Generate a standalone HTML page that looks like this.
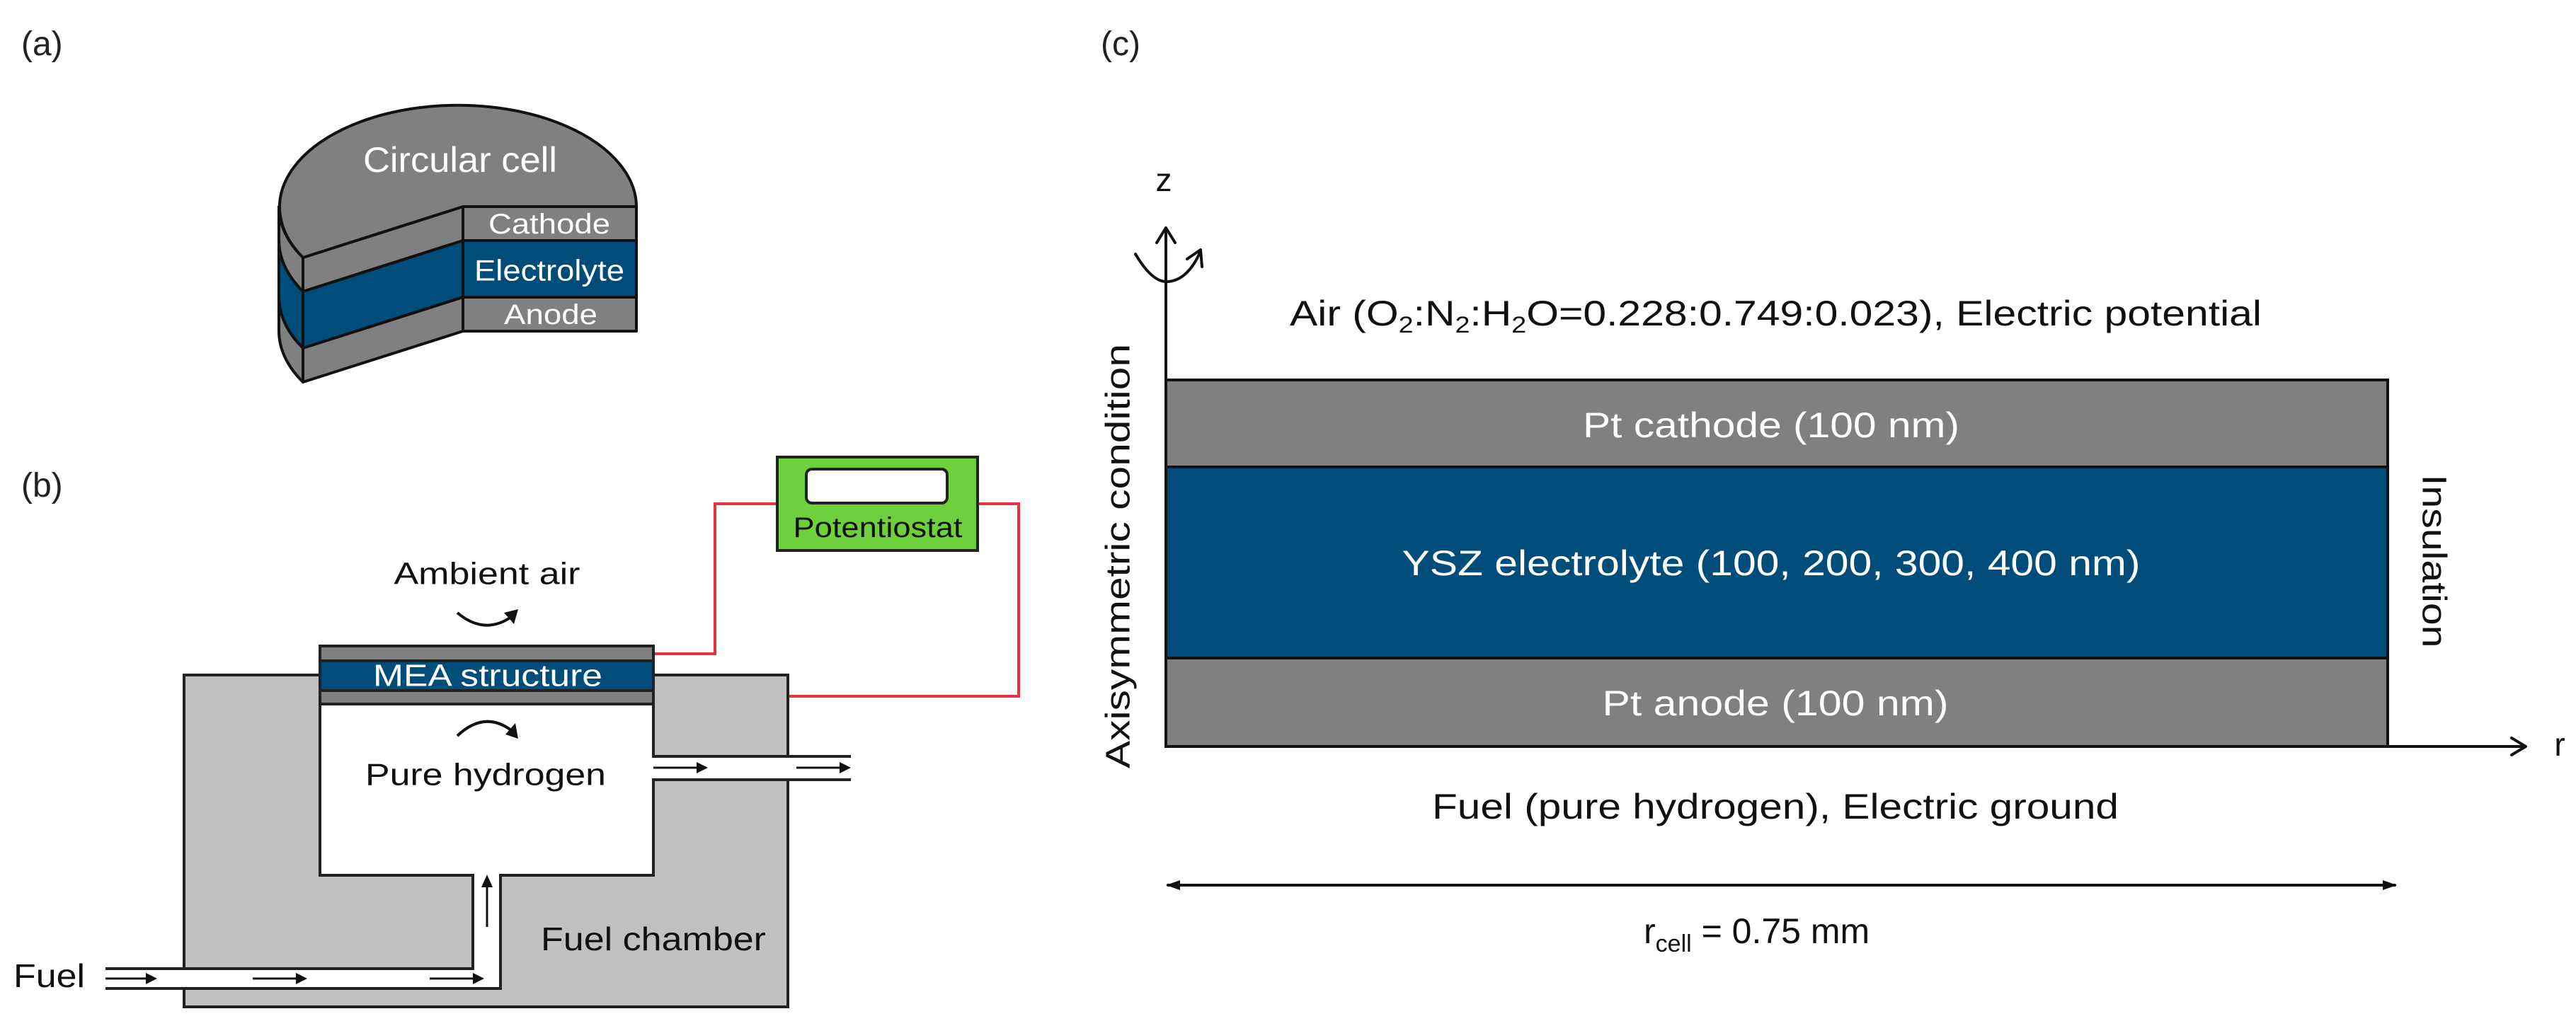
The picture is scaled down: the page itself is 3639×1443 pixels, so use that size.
<!DOCTYPE html>
<html><head><meta charset="utf-8"><style>
html,body{margin:0;padding:0;background:#fff;}
svg{display:block;}
text{font-family:"Liberation Sans",Arial,sans-serif;}
</style></head><body>
<svg width="3639" height="1443" viewBox="0 0 3639 1443" xmlns="http://www.w3.org/2000/svg">
<defs>
<marker id="ah" viewBox="0 0 10 10" refX="9" refY="5" markerWidth="7" markerHeight="7" orient="auto" markerUnits="userSpaceOnUse" style="overflow:visible">
</marker>
</defs>
<rect width="3639" height="1443" fill="#fff"/>

<!-- (a) -->
<text x="30" y="78" font-size="48" fill="#222">(a)</text>
<g stroke="#111" stroke-width="4" stroke-linejoin="round">
  <!-- side faces left curved -->
  <path d="M394,292 A252,144 0 0 0 428,364 L428,412 A252,144 0 0 1 394,340 Z" fill="#808080"/>
  <path d="M394,340 A252,144 0 0 0 428,412 L428,492 A252,144 0 0 1 394,420 Z" fill="#004d7a"/>
  <path d="M394,420 A252,144 0 0 0 428,492 L428,540 A252,144 0 0 1 394,468 Z" fill="#808080"/>
  <!-- cut faces -->
  <path d="M654,292 L428,364 L428,412 L654,340 Z" fill="#808080"/>
  <path d="M654,340 L428,412 L428,492 L654,420 Z" fill="#004d7a"/>
  <path d="M654,420 L428,492 L428,540 L654,468 Z" fill="#808080"/>
  <!-- front box -->
  <rect x="654" y="292" width="245" height="48" fill="#808080"/>
  <rect x="654" y="340" width="245" height="80" fill="#004d7a"/>
  <rect x="654" y="420" width="245" height="48" fill="#808080"/>
  <!-- top face -->
  <path d="M654,292 L428,364 A252,144 0 1 1 899,292 Z" fill="#808080"/>
</g>
<text x="650" y="226" font-size="50" fill="#fff" text-anchor="middle" dominant-baseline="central" textLength="274" lengthAdjust="spacingAndGlyphs">Circular cell</text>
<text x="776" y="317" font-size="40" fill="#fff" text-anchor="middle" dominant-baseline="central" textLength="172" lengthAdjust="spacingAndGlyphs">Cathode</text>
<text x="776" y="382" font-size="42" fill="#fff" text-anchor="middle" dominant-baseline="central" textLength="212" lengthAdjust="spacingAndGlyphs">Electrolyte</text>
<text x="778" y="445" font-size="40" fill="#fff" text-anchor="middle" dominant-baseline="central" textLength="132" lengthAdjust="spacingAndGlyphs">Anode</text>

<!-- (b) -->
<text x="30" y="702" font-size="48" fill="#222">(b)</text>
<!-- red wires -->
<g stroke="#e8323c" stroke-width="4" fill="none">
  <path d="M1098,712 L1010,712 L1010,924 L923,924"/>
  <path d="M1381,712 L1439,712 L1439,984 L923,984"/>
</g>
<!-- chamber -->
<rect x="260" y="954" width="853" height="469" fill="#c0c0c0" stroke="#222" stroke-width="4"/>
<!-- cavity -->
<path d="M452,994 L923,994 L923,1069 L1113,1069 L1113,1102 L923,1102 L923,1237 L707,1237 L707,1397 L149,1397 L149,1369 L668,1369 L668,1237 L452,1237 Z" fill="#fff" stroke="none"/>
<rect x="1110" y="1071" width="95" height="29" fill="#fff"/>
<g stroke="#222" stroke-width="4" fill="none">
  <path d="M452,994 L452,1237 L668,1237 L668,1369 L149,1369"/>
  <path d="M149,1397 L707,1397 L707,1237 L923,1237 L923,1102 L1202,1102"/>
  <path d="M923,994 L923,1069 L1202,1069"/>
</g>
<!-- MEA -->
<g stroke="#222" stroke-width="4">
  <rect x="452" y="913" width="471" height="21" fill="#808080"/>
  <rect x="452" y="934" width="471" height="42" fill="#004d7a"/>
  <rect x="452" y="976" width="471" height="19" fill="#808080"/>
</g>
<text x="689" y="955" font-size="44" fill="#fff" text-anchor="middle" dominant-baseline="central" textLength="324" lengthAdjust="spacingAndGlyphs">MEA structure</text>
<!-- potentiostat -->
<rect x="1098" y="646" width="283" height="132" fill="#6fd03e" stroke="#222" stroke-width="4"/>
<rect x="1139" y="663" width="199" height="48" rx="8" fill="#fff" stroke="#222" stroke-width="4"/>
<text x="1240" y="746" font-size="40" fill="#111" text-anchor="middle" dominant-baseline="central" textLength="239" lengthAdjust="spacingAndGlyphs">Potentiostat</text>
<!-- labels -->
<text x="688" y="811" font-size="44" fill="#111" text-anchor="middle" dominant-baseline="central" textLength="263" lengthAdjust="spacingAndGlyphs">Ambient air</text>
<text x="686" y="1095" font-size="44" fill="#111" text-anchor="middle" dominant-baseline="central" textLength="340" lengthAdjust="spacingAndGlyphs">Pure hydrogen</text>
<text x="923" y="1327" font-size="46" fill="#111" text-anchor="middle" dominant-baseline="central" textLength="318" lengthAdjust="spacingAndGlyphs">Fuel chamber</text>
<text x="19" y="1379" font-size="46" fill="#111" dominant-baseline="central" textLength="101" lengthAdjust="spacingAndGlyphs">Fuel</text>
<!-- curved arrows -->
<g stroke="#111" stroke-width="4" fill="none">
  <path d="M646,866 Q684,898 722,872"/>
  <path d="M646,1040 Q684,1004 722,1032"/>
</g>
<polygon points="732,861 712,866 726,882" fill="#111"/>
<polygon points="732,1044 728,1022 714,1038" fill="#111"/>
<!-- straight arrows -->
<g stroke="#111" stroke-width="3">
  <line x1="923" y1="1085" x2="990" y2="1085"/>
  <line x1="1125" y1="1085" x2="1192" y2="1085"/>
  <line x1="149" y1="1383" x2="212" y2="1383"/>
  <line x1="357" y1="1383" x2="424" y2="1383"/>
  <line x1="607" y1="1383" x2="674" y2="1383"/>
  <line x1="688" y1="1310" x2="688" y2="1248"/>
</g>
<g fill="#111">
  <polygon points="1000,1085 984,1077 984,1093"/>
  <polygon points="1202,1085 1186,1077 1186,1093"/>
  <polygon points="222,1383 206,1375 206,1391"/>
  <polygon points="434,1383 418,1375 418,1391"/>
  <polygon points="684,1383 668,1375 668,1391"/>
  <polygon points="688,1236 680,1254 696,1254"/>
</g>

<!-- (c) -->
<text x="1555" y="78" font-size="48" fill="#222">(c)</text>
<text x="1644" y="254" font-size="46" fill="#111" text-anchor="middle" dominant-baseline="central">z</text>
<g stroke="#111" stroke-width="4" fill="none" stroke-linejoin="round" stroke-linecap="round">
  <line x1="1647" y1="322" x2="1647" y2="1055"/>
  <polyline points="1634,343 1647,322 1660,343"/>
  <path d="M1604,359 Q1628,400 1650,398 Q1678,396 1696,355"/>
  <polyline points="1677,366 1696,353 1698,377"/>
  <line x1="1647" y1="1055" x2="3566" y2="1055"/>
  <polyline points="3548,1043 3568,1055 3548,1067"/>
  <line x1="1650" y1="1251" x2="3383" y2="1251"/>
</g>
<polygon points="1647,1251 1667,1244 1667,1258" fill="#111"/>
<polygon points="3386,1251 3366,1244 3366,1258" fill="#111"/>
<text x="3616" y="1052" font-size="46" fill="#111" text-anchor="middle" dominant-baseline="central">r</text>
<g stroke="#111" stroke-width="4">
  <rect x="1647" y="537" width="1726" height="123" fill="#808080"/>
  <rect x="1647" y="660" width="1726" height="270" fill="#004d7a"/>
  <rect x="1647" y="930" width="1726" height="125" fill="#808080"/>
</g>
<text x="2502" y="601" font-size="50" fill="#fff" text-anchor="middle" dominant-baseline="central" textLength="532" lengthAdjust="spacingAndGlyphs">Pt cathode (100 nm)</text>
<text x="2502" y="796" font-size="50" fill="#fff" text-anchor="middle" dominant-baseline="central" textLength="1043" lengthAdjust="spacingAndGlyphs">YSZ electrolyte (100, 200, 300, 400 nm)</text>
<text x="2508" y="994" font-size="50" fill="#fff" text-anchor="middle" dominant-baseline="central" textLength="489" lengthAdjust="spacingAndGlyphs">Pt anode (100 nm)</text>
<text x="1822" y="460" font-size="50" fill="#111" textLength="1373" lengthAdjust="spacingAndGlyphs">Air (O<tspan font-size="32" dy="10">2</tspan><tspan dy="-10">:N</tspan><tspan font-size="32" dy="10">2</tspan><tspan dy="-10">:H</tspan><tspan font-size="32" dy="10">2</tspan><tspan dy="-10">O=0.228:0.749:0.023), Electric potential</tspan></text>
<text x="2508" y="1140" font-size="50" fill="#111" text-anchor="middle" dominant-baseline="central" textLength="970" lengthAdjust="spacingAndGlyphs">Fuel (pure hydrogen), Electric ground</text>
<text x="2322" y="1333" font-size="50" fill="#111">r<tspan font-size="34" dy="12">cell</tspan><tspan dy="-12"> = 0.75 mm</tspan></text>
<text transform="translate(1580,786) rotate(-90)" font-size="48" fill="#111" text-anchor="middle" dominant-baseline="central" textLength="600" lengthAdjust="spacingAndGlyphs">Axisymmetric condition</text>
<text transform="translate(3438,793) rotate(90)" font-size="48" fill="#111" text-anchor="middle" dominant-baseline="central" textLength="245" lengthAdjust="spacingAndGlyphs">Insulation</text>
</svg>
</body></html>
